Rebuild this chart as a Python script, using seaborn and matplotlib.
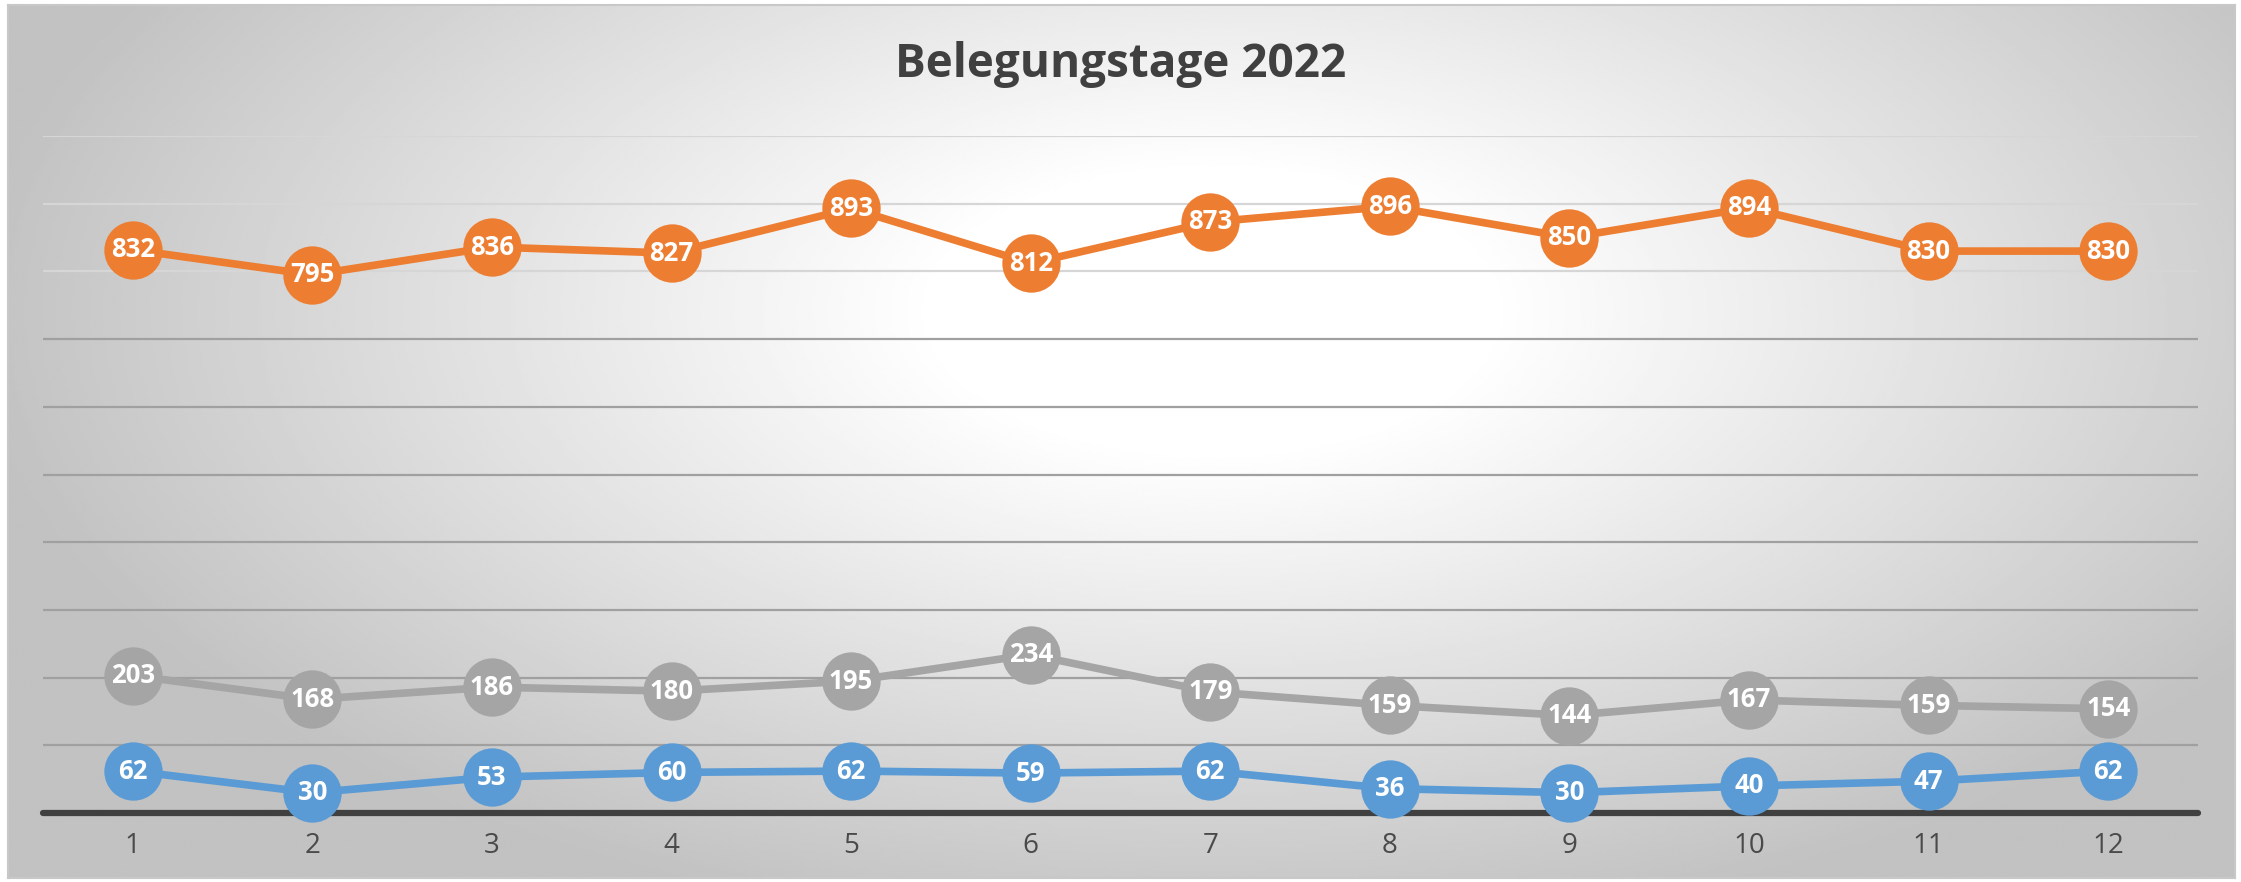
import numpy as np
import pandas as pd
import matplotlib
matplotlib.use("Agg")
import matplotlib.pyplot as plt
import seaborn as sns

# Chart data
months = [1, 2, 3, 4, 5, 6, 7, 8, 9, 10, 11, 12]
serie_1 = [62, 30, 53, 60, 62, 59, 62, 36, 30, 40, 47, 62]          # blue
serie_2 = [832, 795, 836, 827, 893, 812, 873, 896, 850, 894, 830, 830]  # orange
serie_3 = [203, 168, 186, 180, 195, 234, 179, 159, 144, 167, 159, 154]  # gray
series_names = ["Serie 1", "Serie 2", "Serie 3"]
colors = ["#5B9BD5", "#ED7D31", "#A5A5A5"]
title = "Belegungstage 2022"

df = pd.DataFrame({
    "Monat": months * 3,
    "Wert": serie_1 + serie_2 + serie_3,
    "Serie": np.repeat(series_names, len(months)),
})
df["pos"] = df["Monat"] - 1

sns.set_style("white")
plt.rcParams["font.family"] = ["Open Sans", "DejaVu Sans"]

fig = plt.figure(figsize=(22.41, 8.82), dpi=100)
fig.patch.set_facecolor("white")

# radial gradient background (white centre, gray edges)
bg = fig.add_axes([0.0036, 0.004, 0.9938, 0.990])
h, w = 300, 760
yy, xx = np.mgrid[0:h, 0:w]
d = np.sqrt(((xx / w - 0.54) / 0.62) ** 2 + ((yy / h - 0.35) / 0.8) ** 2)
shade = np.clip((d - 0.2) / 0.7, 0, 1)
g = 1.0 - shade * (1.0 - 0.76)
bg.imshow(g, cmap="gray", vmin=0, vmax=1, aspect="auto", interpolation="bilinear")
bg.set_xticks([])
bg.set_yticks([])
for s in bg.spines.values():
    s.set_color("#c8c8c8")
    s.set_linewidth(1.5)
bg.set_zorder(0)

ax = fig.add_axes([0.0192, 0.0782, 0.9616, 0.7676])
ax.set_zorder(1)
ax.patch.set_alpha(0)

# gridlines
for v in range(100, 1001, 100):
    ax.axhline(v, color="#d6d6d6" if v >= 800 else "#a0a0a0", lw=1.6, zorder=0)

# baseline (not clipped, so it keeps full thickness)
ax.axhline(0, color="#404040", lw=4.5, zorder=2, clip_on=False)

sns.lineplot(data=df, x="pos", y="Wert", hue="Serie", palette=colors,
             linewidth=5.5, marker="o", markersize=42, markeredgewidth=0,
             legend=False, ax=ax, zorder=3, clip_on=False)

for name, vals, c in zip(series_names, [serie_1, serie_2, serie_3], colors):
    for i, v in enumerate(vals):
        ax.text(i, v, str(v), ha="center", va="center", color="white",
                fontsize=18.5, fontweight="bold", zorder=5)

ax.set_xlim(-0.5, 11.5)
ax.set_ylim(0, 1000)
ax.set_xticks(range(len(months)))
ax.set_xticklabels([str(m) for m in months], fontsize=20, color="#4a4a4a")
ax.tick_params(axis="x", length=0, pad=14)
ax.set_yticks([])
ax.set_xlabel("")
ax.set_ylabel("")
for s in ax.spines.values():
    s.set_visible(False)

fig.text(0.5, 0.927, title, ha="center", va="center", fontsize=33,
         fontweight="bold", color="#404040")

fig.savefig("out.png", dpi=100)
